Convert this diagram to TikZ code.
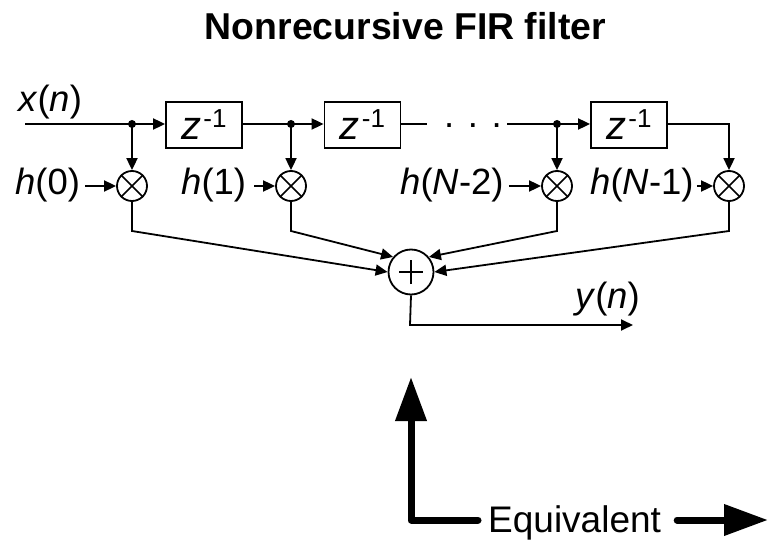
\documentclass[tikz,border=0pt]{standalone}
\usepackage{fontspec}
\setmainfont{Liberation Sans}
\usetikzlibrary{arrows.meta}
\newcommand{\ii}[1]{\textit{#1}}
\tikzset{
  wire/.style={line width=1.8pt,line join=miter},
  arr/.style={wire,-{Triangle[length=12pt,width=11pt]}},
  delaybox/.style={draw,line width=1.8pt,minimum width=76pt,minimum height=46pt,inner sep=0pt},
  lab/.style={font=\fontsize{36.5}{40}\selectfont,inner sep=0pt,anchor=base west},
  mult/.style={draw,circle,line width=1.8pt,minimum size=30pt,inner sep=0pt},
  adder/.style={draw,circle,line width=1.8pt,minimum size=45pt,inner sep=0pt},
  junction/.style={circle,fill=black,minimum size=8pt,inner sep=0pt},
  thick arrow/.style={line width=7pt,line join=round,line cap=round},
  big head/.style={-{Triangle[length=44pt,width=30pt]}}
}
\newcommand{\zinv}{\raisebox{-2pt}{\fontsize{40}{44}\selectfont\ii{z}\hspace{2pt}\raisebox{12pt}{\fontsize{26}{30}\selectfont -1}}}
\begin{document}
\begin{tikzpicture}[x=1pt,y=-1pt]
\useasboundingbox (0,0) rectangle (768,540);
% title
\node[font=\fontsize{37.4}{40}\selectfont\bfseries,inner sep=0pt,anchor=base] (title) at (405.5,40) {Nonrecursive FIR filter};
% delays
\node[delaybox] (z1) at (204,125) {\zinv};
\node[delaybox] (z2) at (362.5,125) {\zinv};
\node[delaybox] (z4) at (629,125) {\zinv};
% junctions
\node[junction] (j1) at (132,124) {};
\node[junction] (j2) at (291,124) {};
\node[junction] (j3) at (557,124) {};
% multipliers
\node[mult] (m0) at (132,186) {};
\node[mult] (m1) at (291,186) {};
\node[mult] (m2) at (557,186) {};
\node[mult] (m3) at (729,186) {};
\foreach \m in {m0,m1,m2,m3}{
  \draw[line width=1.5pt] (\m.north west) -- (\m.south east);
  \draw[line width=1.5pt] (\m.north east) -- (\m.south west);
}
% adder
\node[adder] (s) at (411,272) {};
\draw[line width=1.5pt] ([xshift=-12pt]s.center) -- ([xshift=12pt]s.center);
\draw[line width=1.5pt] ([yshift=-12pt]s.center) -- ([yshift=12pt]s.center);
% labels
\node[lab] (x) at (18,112) {\ii{x}(\ii{n})};
\node[lab] (h0) at (15,195) {\ii{h}(0)};
\node[lab] (h1) at (181,195) {\ii{h}(1)};
\node[lab] (h2) at (400,195) {\ii{h}(\ii{N}-2)};
\node[lab] (h3) at (590,195) {\ii{h}(\ii{N}-1)};
\node[lab] (y) at (575,308) {\ii{y}(\ii{n})};
\node[lab] (dots) at (444,128) {. . .};
\node[lab,font=\fontsize{37}{40}\selectfont] (eq) at (488,532) {Equivalent};
% helper coordinates
\coordinate (in) at (25,124);
\coordinate (c0) at (132,231);
\coordinate (c1) at (291,231);
\coordinate (c2) at (557,231);
\coordinate (c3) at (729,231);
\coordinate (outc) at (410,325);
\coordinate (out) at (633,325);
\coordinate (gapa) at (427,124);
\coordinate (gapb) at (507,124);
\coordinate (elbow) at (411,520);
\coordinate (uptip) at (411,377);
\coordinate (upbase) at (411,421);
\coordinate (rtip) at (768,520);
\coordinate (rbase) at (727,520);
% main line
\draw[wire] (in) -- (j1.center);
\draw[arr] (j1.center) -- (z1.west |- j1.center);
\draw[wire] (z1.east |- j1.center) -- (j2.center);
\draw[arr] (j2.center) -- (z2.west |- j2.center);
\draw[wire] (z2.east |- j2.center) -- (gapa);
\draw[wire] (gapb) -- (j3.center);
\draw[arr] (j3.center) -- (z4.west |- j3.center);
\draw[arr] (z4.east |- j3.center) -- (m3.north |- j3.center) -- (m3.north);
% taps
\draw[arr] (j1.center) -- (m0.north);
\draw[arr] (j2.center) -- (m1.north);
\draw[arr] (j3.center) -- (m2.north);
% coefficients
\draw[arr] ([xshift=5pt]h0.east |- m0.west) -- (m0.west);
\draw[arr] ([xshift=8pt]h1.east |- m1.west) -- (m1.west);
\draw[arr] ([xshift=5pt]h2.east |- m2.west) -- (m2.west);
\draw[arr] ([xshift=3pt]h3.east |- m3.west) -- (m3.west);
% to adder
\draw[arr] (m0.south) -- (c0) -- (s.180);
\draw[arr] (m1.south) -- (c1) -- (s.140);
\draw[arr] (m2.south) -- (c2) -- (s.40);
\draw[arr] (m3.south) -- (c3) -- (s.0);
% output
\draw[arr] (s.south) -- (outc) -- (out);
% thick arrows
\draw[thick arrow] ([xshift=-10pt]eq.west |- elbow) -- (elbow) -- (upbase);
\draw[line width=7pt,big head] (upbase) -- (uptip);
\draw[thick arrow] ([xshift=16pt]eq.east |- rtip) -- (rbase);
\draw[line width=7pt,big head] (rbase) -- (rtip);
\end{tikzpicture}
\end{document}
